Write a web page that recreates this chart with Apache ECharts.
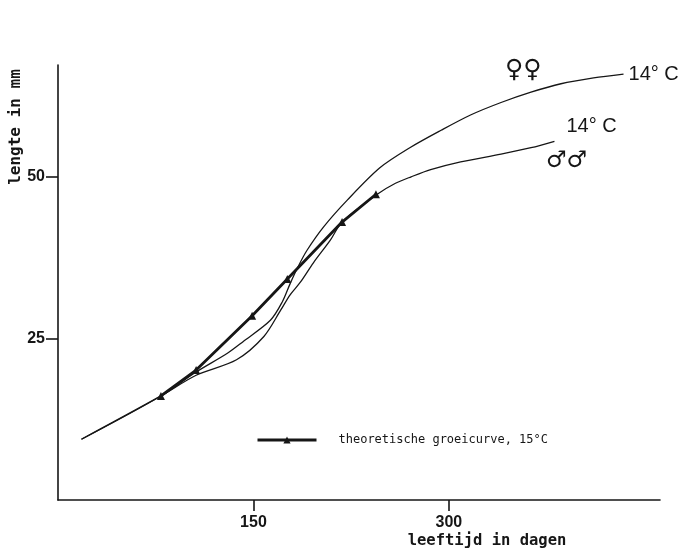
<!DOCTYPE html>
<html>
<head>
<meta charset="utf-8">
<script src="https://cdn.jsdelivr.net/npm/echarts@6/dist/echarts.min.js"></script>
<style>
  html, body { margin: 0; padding: 0; background: #fff; }
  #chart { width: 686px; height: 553px; }
</style>
</head>
<body>
<div id="chart"></div>
<script>
// Growth in length (mm) against age (days)
var theoryDays   = [79, 106, 149, 176, 218, 244];
var theoryLength = [16.1, 20.1, 28.5, 34.2, 43.0, 47.3];

var femaleDays   = [18, 79, 106, 130, 142, 163, 172, 178, 184, 191, 204, 222, 247, 270, 294, 317, 340, 363, 386, 411, 434];
var femaleLength = [9.4, 16.1, 19.8, 22.7, 24.5, 27.8, 30.6, 33.4, 36.0, 38.6, 42.3, 46.4, 51.4, 54.5, 57.2, 59.6, 61.5, 63.1, 64.4, 65.3, 65.9];

var maleDays   = [18, 79, 106, 137, 158, 171, 178, 186, 196, 209, 218, 245, 259, 271, 286, 309, 340, 363, 381];
var maleLength = [9.4, 16.1, 19.3, 21.7, 25.3, 29.4, 31.7, 33.7, 36.7, 40.2, 43.0, 47.3, 49.0, 50.0, 51.1, 52.3, 53.5, 54.5, 55.5];

var xTicks = [150, 300];
var yTicks = [25, 50];

var theoryName = 'theoretische groeicurve, 15\u00B0C';
var tempLabel = '14\u00B0 C';

function pairs(xs, ys) {
  return xs.map(function (x, i) { return [x, ys[i]]; });
}

var ink = '#161616';
var chart = echarts.init(document.getElementById('chart'), null, { renderer: 'canvas' });

chart.setOption({
  animation: false,
  backgroundColor: '#ffffff',
  grid: { left: 58, right: 26, top: 65, bottom: 53, outerBoundsMode: 'none' },
  legend: {
    data: [theoryName],
    left: 251, top: 429,
    itemWidth: 59, itemHeight: 9,
    lineStyle: { width: 3 },
    textStyle: { fontFamily: 'DejaVu Sans Mono', fontSize: 12, color: ink, padding: [0, 0, 0, 17] }
  },
  xAxis: {
    type: 'value', min: 0, max: 462,
    splitLine: { show: false },
    axisLine: { lineStyle: { color: ink, width: 1.6 } },
    axisTick: { customValues: xTicks, length: 11, lineStyle: { color: ink, width: 1.6 } },
    axisLabel: { customValues: xTicks, margin: 15, fontFamily: 'Liberation Sans', fontWeight: 'bold', fontSize: 16, color: ink }
  },
  yAxis: {
    type: 'value', min: 0, max: 67.3,
    splitLine: { show: false },
    axisLine: { show: true, lineStyle: { color: ink, width: 1.6 } },
    axisTick: { show: true, customValues: yTicks, length: 12, lineStyle: { color: ink, width: 1.6 } },
    axisLabel: { customValues: yTicks, margin: 13, fontFamily: 'Liberation Sans', fontWeight: 'bold', fontSize: 16, color: ink }
  },
  series: [
    {
      name: 'female',
      type: 'line',
      data: pairs(femaleDays, femaleLength),
      smooth: 0.3,
      symbol: 'none',
      lineStyle: { color: ink, width: 1.3 },
      endLabel: { show: true, formatter: tempLabel, distance: 5, fontFamily: 'Liberation Sans', fontSize: 20, color: ink }
    },
    {
      name: 'male',
      type: 'line',
      data: pairs(maleDays, maleLength),
      smooth: 0.3,
      symbol: 'none',
      lineStyle: { color: ink, width: 1.3 },
      endLabel: { show: true, formatter: tempLabel, distance: 5, offset: [7, -15], fontFamily: 'Liberation Sans', fontSize: 20, color: ink }
    },
    {
      name: theoryName,
      type: 'line',
      data: pairs(theoryDays, theoryLength),
      symbol: 'triangle',
      symbolSize: 8,
      showAllSymbol: true,
      lineStyle: { color: ink, width: 2.8 },
      itemStyle: { color: ink },
      z: 5
    }
  ],
  graphic: [
    { type: 'text', left: 505, top: 58, style: { text: '\u2640\u2640', font: '25px "DejaVu Sans"', fill: ink } },
    { type: 'text', left: 546, top: 150, style: { text: '\u2642\u2642', font: '23px "DejaVu Sans"', fill: ink } },
    { type: 'text', x: 16, y: 127, rotation: Math.PI / 2,
      style: { text: 'lengte in mm', font: 'bold 16px "DejaVu Sans Mono"', fill: ink, align: 'center', verticalAlign: 'middle' } },
    { type: 'text', x: 487, y: 541,
      style: { text: 'leeftijd in dagen', font: 'bold 15.5px "DejaVu Sans Mono"', fill: ink, align: 'center', verticalAlign: 'middle' } }
  ]
});
</script>
</body>
</html>
